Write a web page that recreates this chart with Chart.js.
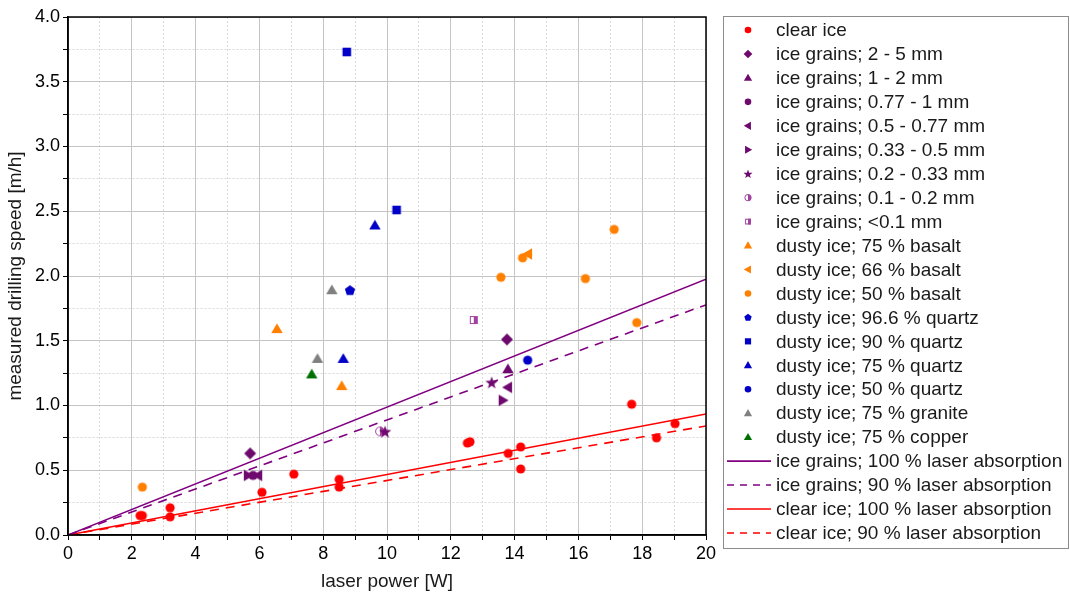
<!DOCTYPE html>
<html><head><meta charset="utf-8">
<script src="https://cdn.jsdelivr.net/npm/chart.js@4.4.1/dist/chart.umd.min.js"></script>
<style>html,body{margin:0;padding:0;background:#fff}</style>
</head><body>
<canvas id="c" width="1070" height="597"></canvas>
<script>
// ---------------- DATA ----------------
const xTicksMajor = [0,2,4,6,8,10,12,14,16,18,20];
const yTicksMajor = [0.0,0.5,1.0,1.5,2.0,2.5,3.0,3.5,4.0];

const clearIce = [[2.26,0.15],[2.33,0.15],[3.2,0.21],[3.2,0.14],[6.08,0.33],[7.08,0.47],[8.5,0.43],[8.5,0.37],[12.52,0.71],[12.6,0.72],[13.8,0.63],[14.19,0.68],[14.19,0.51],[17.67,1.01],[18.45,0.75],[19.03,0.86]];
const grains2to5 = [[5.71,0.63],[13.76,1.51]];
const grains1to2 = [[13.79,1.28]];
const grains077to1 = [[5.8,0.46]];
const grains05to077 = [[5.96,0.46],[13.79,1.14]];
const grains033to05 = [[5.64,0.46],[13.63,1.04]];
const grains02to033 = [[9.94,0.80],[13.28,1.18]];
const grains01to02 = [[9.78,0.80]];
const grainsBelow01 = [[12.72,1.66]];
const basalt75 = [[6.55,1.59],[8.58,1.15]];
const basalt66 = [[14.42,2.17]];
const basalt50 = [[2.33,0.37],[13.57,1.99],[14.25,2.14],[16.22,1.98],[17.12,2.36],[17.83,1.64]];
const quartz966 = [[8.84,1.89]];
const quartz90 = [[8.74,3.73],[10.3,2.51]];
const quartz75 = [[8.63,1.36],[9.62,2.39]];
const quartz50 = [[14.41,1.35]];
const granite75 = [[7.82,1.36],[8.27,1.89]];
const copper75 = [[7.64,1.24]];

const lineX = [0,20];
const grains100 = [0,1.975];
const grains90 = [0,1.777];
const clear100 = [0,0.935];
const clear90 = [0,0.842];

const markerLabels = ['clear ice','ice grains; 2 - 5 mm','ice grains; 1 - 2 mm','ice grains; 0.77 - 1 mm','ice grains; 0.5 - 0.77 mm','ice grains; 0.33 - 0.5 mm','ice grains; 0.2 - 0.33 mm','ice grains; 0.1 - 0.2 mm','ice grains; <0.1 mm','dusty ice; 75 % basalt','dusty ice; 66 % basalt','dusty ice; 50 % basalt','dusty ice; 96.6 % quartz','dusty ice; 90 % quartz','dusty ice; 75 % quartz','dusty ice; 50 % quartz','dusty ice; 75 % granite','dusty ice; 75 % copper'];
const lineLabels = ['ice grains; 100 % laser absorption','ice grains; 90 % laser absorption','clear ice; 100 % laser absorption','clear ice; 90 % laser absorption'];

// ---------------- STYLES ----------------
const RED='#ff0000', PUR='#6e0a6e', PURL='#a0429e', ORG='#ff8000', BLU='#0000c8', GRY='#808080', GRN='#007000', PLINE='#800080';
const markerData = [clearIce,grains2to5,grains1to2,grains077to1,grains05to077,grains033to05,grains02to033,grains01to02,grainsBelow01,basalt75,basalt66,basalt50,quartz966,quartz90,quartz75,quartz50,granite75,copper75];
const markerKinds = ['circle','diamond','triangle','circle','triLeft','triRight','star','halfCircle','halfSquare','triangle','triLeft','circle','pentagon','square','triangle','circle','triangle','triangle'];
const markerColors = [RED,PUR,PUR,PUR,PUR,PUR,PUR,PURL,PURL,ORG,ORG,ORG,BLU,BLU,BLU,BLU,GRY,GRN];
const lineData = [grains100,grains90,clear100,clear90];
const lineColors = [PLINE,PLINE,RED,RED];
const lineDashes = [[],[9,7],[],[9,7]];

function poly(ctx,x,y,R,n,start){
  for(let i=0;i<n;i++){const a=start+i*2*Math.PI/n;const px=x+R*Math.cos(a),py=y+R*Math.sin(a);if(i===0)ctx.moveTo(px,py);else ctx.lineTo(px,py);}
  ctx.closePath();
}
function drawMarker(ctx,kind,x,y,s,color){
  ctx.save();ctx.fillStyle=color;ctx.strokeStyle=color;ctx.lineWidth=1;ctx.beginPath();
  switch(kind){
    case 'circle': ctx.arc(x,y,4.6*s,0,2*Math.PI);ctx.fill();break;
    case 'triangle': poly(ctx,x,y+0.8*s,6.6*s,3,-Math.PI/2);ctx.fill();break;
    case 'triLeft': poly(ctx,x+0.8*s,y,6.6*s,3,Math.PI);ctx.fill();break;
    case 'triRight': poly(ctx,x-0.8*s,y,6.6*s,3,0);ctx.fill();break;
    case 'diamond': poly(ctx,x,y,6.0*s,4,-Math.PI/2);ctx.fill();break;
    case 'square': ctx.rect(x-4.3*s,y-4.3*s,8.6*s,8.6*s);ctx.fill();break;
    case 'pentagon': poly(ctx,x,y+0.4*s,5.4*s,5,-Math.PI/2);ctx.fill();break;
    case 'star': {
      for(let i=0;i<10;i++){const R=(i%2===0)?6.6*s:2.7*s;const a=-Math.PI/2+i*Math.PI/5;const px=x+R*Math.cos(a),py=y+0.8*s+R*Math.sin(a);if(i===0)ctx.moveTo(px,py);else ctx.lineTo(px,py);}
      ctx.closePath();ctx.fill();break;}
    case 'halfCircle': {
      const r=4.4*s;ctx.arc(x,y,r,0,2*Math.PI);ctx.fillStyle='#fff';ctx.fill();ctx.fillStyle=color;
      ctx.beginPath();ctx.arc(x,y,r,-Math.PI/2,Math.PI/2);ctx.closePath();ctx.fill();
      ctx.beginPath();ctx.arc(x,y,r,0,2*Math.PI);ctx.stroke();break;}
    case 'halfSquare': {
      const h=4.0*s;ctx.fillStyle='#fff';ctx.fillRect(x-h,y-h,2*h,2*h);ctx.fillStyle=color;
      ctx.fillRect(x,y-h,h,2*h);ctx.strokeRect(x-h+0.5,y-h+0.5,2*h-1,2*h-1);break;}
  }
  ctx.restore();
}
function markerImage(kind,color,s){
  const S=Math.ceil(16*s)+2;const cv=document.createElement('canvas');cv.width=S;cv.height=S;
  drawMarker(cv.getContext('2d'),kind,S/2,S/2,s,color);return cv;
}

const datasets=[];
markerData.forEach((pts,i)=>{
  datasets.push({label:markerLabels[i],data:pts.map(p=>({x:p[0],y:p[1]})),pointStyle:markerImage(markerKinds[i],markerColors[i],1),pointRadius:5,backgroundColor:markerColors[i],borderColor:markerColors[i],showLine:false});
});
lineData.forEach((vals,i)=>{
  datasets.push({label:lineLabels[i],data:vals.map((v,j)=>({x:lineX[j],y:v})),showLine:true,pointRadius:0,borderColor:lineColors[i],borderWidth:1.6,borderDash:lineDashes[i],fill:false});
});

const FONT='"Liberation Sans", Arial, sans-serif';

const framePlugin={id:'frame',afterDraw(chart){
  const ctx=chart.ctx,a=chart.chartArea;ctx.save();
  ctx.strokeStyle='#000';ctx.lineWidth=1.5;ctx.strokeRect(a.left,a.top,a.right-a.left,a.bottom-a.top);
  // legend
  const lx=723.5,ly=16.5,lw=345,lh=532;
  ctx.lineWidth=1;ctx.strokeStyle='#8c8c8c';ctx.strokeRect(lx,ly,lw,lh);
  ctx.font='19px '+FONT;ctx.fillStyle='#1a1a1a';ctx.textBaseline='middle';ctx.textAlign='left';
  const step=23.95;let y0=30;
  markerLabels.forEach((t,i)=>{const y=y0+i*step;drawMarker(ctx,markerKinds[i],748,y,0.72,markerColors[i]);ctx.fillText(t,776,y+1);});
  lineLabels.forEach((t,i)=>{const y=y0+(markerLabels.length+i)*step;
    ctx.save();ctx.strokeStyle=lineColors[i];ctx.lineWidth=1.6;ctx.setLineDash(lineDashes[i].length?[7,6]:[]);
    ctx.beginPath();ctx.moveTo(727,y);ctx.lineTo(771,y);ctx.stroke();ctx.restore();
    ctx.fillText(t,776,y+1);});
  ctx.restore();
}};

new Chart(document.getElementById('c'),{
  type:'scatter',
  data:{datasets},
  options:{
    responsive:false,animation:false,
    layout:{padding:{left:0,top:17,right:364,bottom:0}},
    plugins:{legend:{display:false},tooltip:{enabled:false}},
    scales:{
      x:{type:'linear',min:0,max:20,
        afterFit(s){s.height=62;},
        ticks:{stepSize:1,autoSkip:false,maxRotation:0,color:'#000',font:{family:FONT,size:18},padding:3,
          callback:v=>xTicksMajor.includes(v)?String(v):''},
        grid:{color:c=>(c.tick&&c.tick.value%2!==0)?'#d9d9d9':'#c4c4c4',lineWidth:1,tickColor:'#000',tickLength:5},
        border:{color:'#000',width:1.5,dash:c=>(c.tick&&c.tick.value%2!==0)?[2,2]:[]},
        title:{display:true,text:'laser power [W]',color:'#1a1a1a',font:{family:FONT,size:19},padding:{top:4,bottom:4}}
      },
      y:{type:'linear',min:0,max:4,
        afterFit(s){s.width=68;},
        ticks:{stepSize:0.25,autoSkip:false,color:'#000',font:{family:FONT,size:18},padding:3,
          callback:v=>yTicksMajor.some(t=>Math.abs(t-v)<1e-9)?v.toFixed(1):''},
        grid:{color:c=>(c.tick&&Math.abs(c.tick.value*2-Math.round(c.tick.value*2))>1e-6)?'#d9d9d9':'#c4c4c4',lineWidth:1,tickColor:'#000',tickLength:5},
        border:{color:'#000',width:1.5,dash:c=>(c.tick&&Math.abs(c.tick.value*2-Math.round(c.tick.value*2))>1e-6)?[2,2]:[]},
        title:{display:true,text:'measured drilling speed [m/h]',color:'#1a1a1a',font:{family:FONT,size:19},padding:{top:4,bottom:4}}
      }
    }
  },
  plugins:[framePlugin]
});
</script>
</body></html>
